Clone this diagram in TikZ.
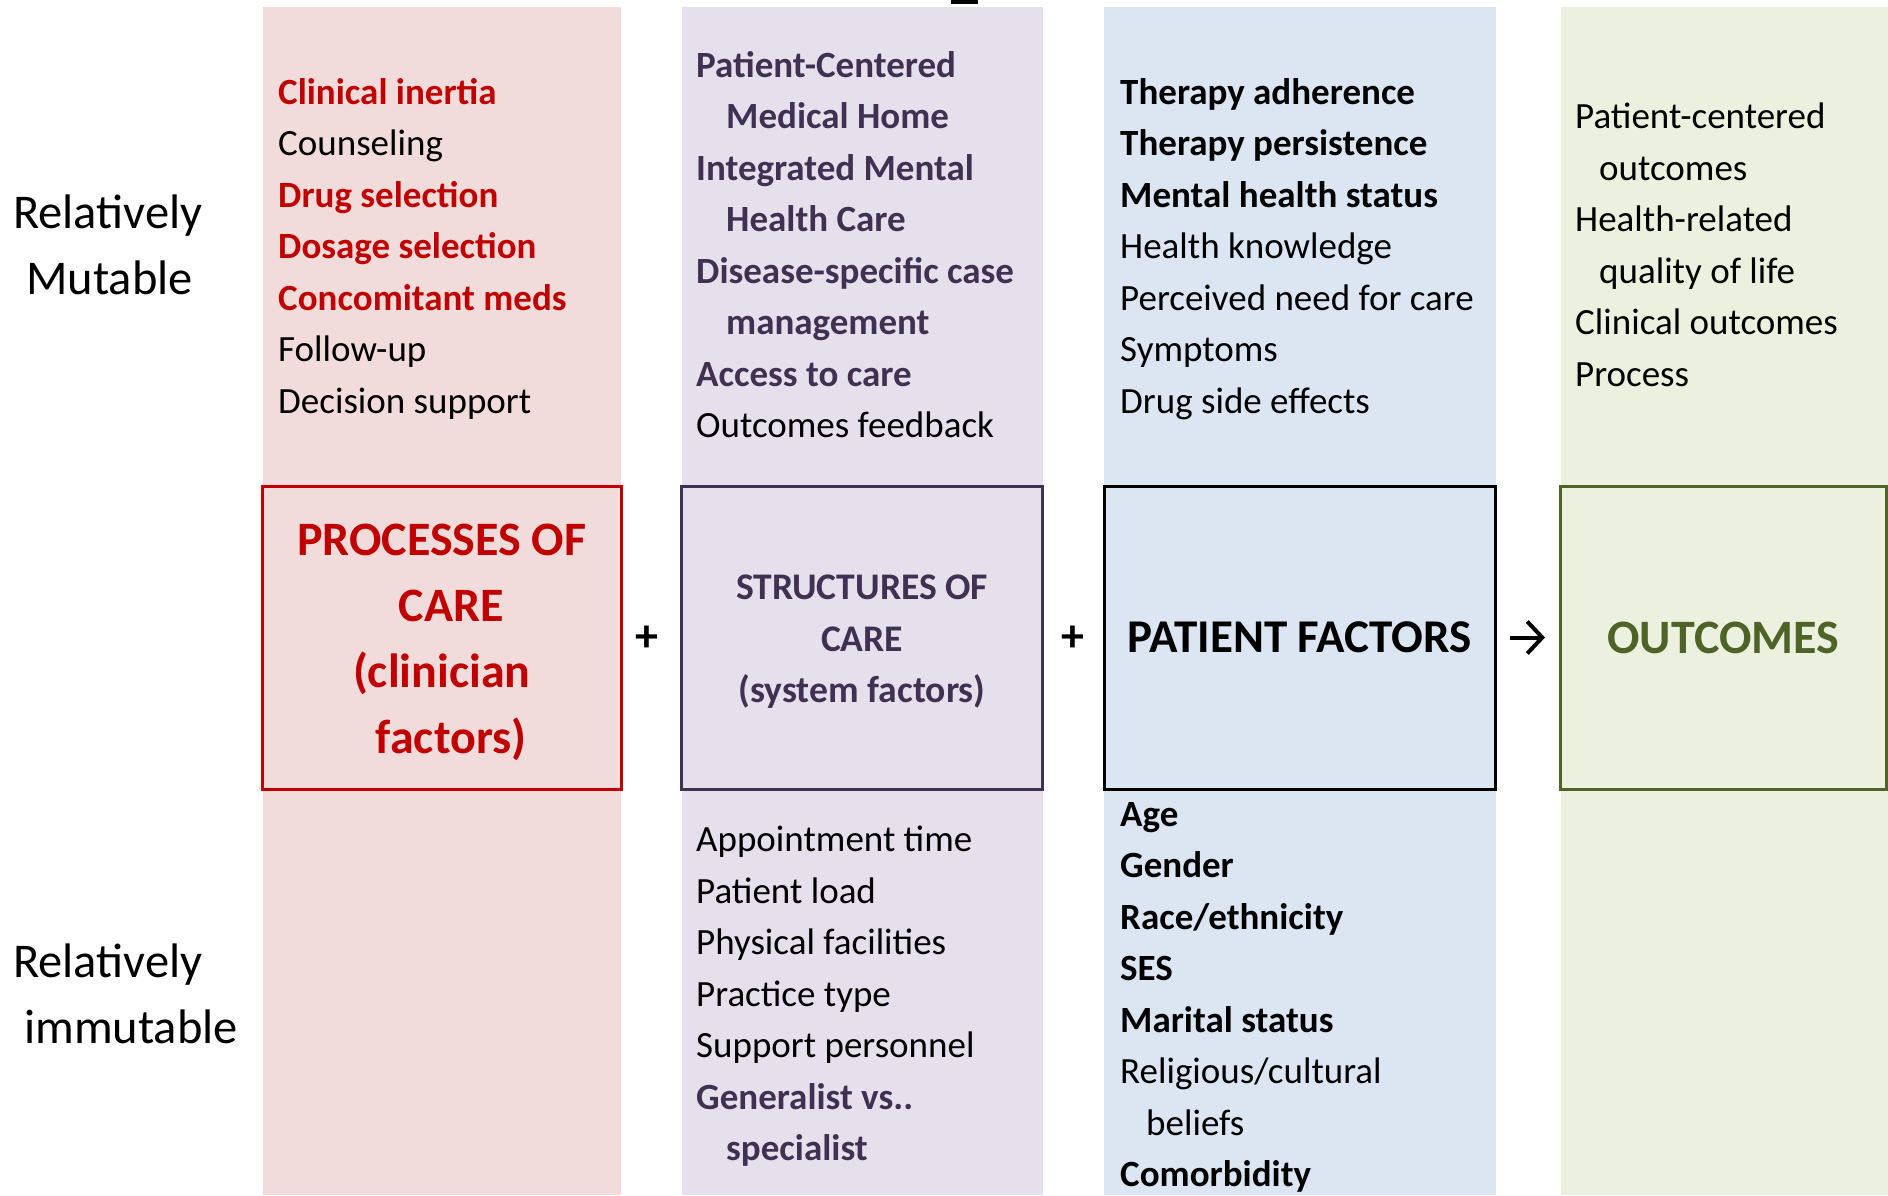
\documentclass[tikz,border=0pt]{standalone}
\usepackage{fontspec}
\setmainfont{Carlito}
\usetikzlibrary{arrows.meta}

\definecolor{procred}{HTML}{C00000}
\definecolor{procfill}{HTML}{F2DCDB}
\definecolor{structpurple}{HTML}{403152}
\definecolor{structfill}{HTML}{E5E0EC}
\definecolor{patientfill}{HTML}{DCE6F2}
\definecolor{outgreen}{HTML}{4F6228}
\definecolor{outfill}{HTML}{EBF1DE}

\newcommand{\redbold}[1]{{\bfseries\color{procred}#1}}
\newcommand{\purplebold}[1]{{\bfseries\color{structpurple}#1}}

\begin{document}
\begin{tikzpicture}[x=1pt, y=-1pt,
        factorbox/.style={rectangle, draw, line width=3pt, inner sep=0pt, align=center},
        itemlist/.style={anchor=base west, inner sep=0pt, align=left, font=\fontsize{37}{51.5}\selectfont},
        sidelabel/.style={anchor=base west, inner sep=0pt, align=left, font=\fontsize{48.5}{66}\selectfont},
        arrow/.style={-{Straight Barb[length=15pt,width=32pt]}, line width=4pt}
    ]
        \useasboundingbox (0,0) rectangle (1888,1195);

        % Column backgrounds
        \fill[procfill] (262.5,7) rectangle (621,1195);
        \fill[structfill] (681.5,7) rectangle (1042.75,1195);
        \fill[patientfill] (1104,7) rectangle (1495.5,1195);
        \fill[outfill] (1560.5,7) rectangle (1888,1195);
        \fill (951,0) rectangle (978,4);

        % Factor boxes
        \node[factorbox, draw=procred, fill=procfill, text=procred, minimum width=358.5pt, minimum height=303pt, font=\bfseries\fontsize{48}{66}\selectfont] (process) at (441.75,637.5) {\rule{0pt}{42pt}PROCESSES OF\\\hspace*{19pt}CARE\\(clinician\\\hspace*{19pt}factors)};
        \node[factorbox, draw=structpurple, fill=structfill, text=structpurple, minimum width=361.25pt, minimum height=303pt, font=\bfseries\fontsize{37.6}{51.5}\selectfont] (structure) at (862.1,637.5) {\rule{0pt}{33pt}STRUCTURES OF\\CARE\\(system factors)};
        \node[factorbox, draw=black, fill=patientfill, minimum width=391.5pt, minimum height=303pt, font=\bfseries\fontsize{47}{56}\selectfont] (patient) at (1299.75,637.5) {PATIENT FACTORS};
        \node[factorbox, draw=outgreen, fill=outfill, text=outgreen, minimum width=325.5pt, minimum height=303pt, font=\bfseries\fontsize{48}{56}\selectfont] (outcome) at (1723.25,637.5) {OUTCOMES};

        % Operators
        \node[font=\bfseries\fontsize{46}{52}\selectfont] (plusone) at (646.6,639) {+};
        \node[font=\bfseries\fontsize{46}{52}\selectfont] (plustwo) at (1073,639) {+};
        \draw[arrow, shorten <=13pt, shorten >=14pt] (patient) -- (outcome);

        % Row labels (anchored at last baseline)
        \node[sidelabel] (mutable) at (13,294.5) {Relatively\\\hspace*{13pt}Mutable};
        \node[sidelabel] (immutable) at (13,1043.5) {Relatively\\\hspace*{11pt}immutable};

        % Mutable factors
        \node[itemlist] (proclist) at (278,413) {\redbold{Clinical inertia}\\Counseling\\\redbold{Drug selection}\\\redbold{Dosage selection}\\\redbold{Concomitant meds}\\Follow-up\\Decision support};
        \node[itemlist] (structlist) at (696,437.5) {\purplebold{Patient-Centered}\\\hspace*{30pt}\purplebold{Medical Home}\\\purplebold{Integrated Mental}\\\hspace*{30pt}\purplebold{Health Care}\\\purplebold{Disease-specific case}\\\hspace*{30pt}\purplebold{management}\\\purplebold{Access to care}\\Outcomes feedback};
        \node[itemlist] (patientlist) at (1120,413) {\textbf{Therapy adherence}\\\textbf{Therapy persistence}\\\textbf{Mental health status}\\Health knowledge\\Perceived need for care\\Symptoms\\Drug side effects};
        \node[itemlist] (outlist) at (1575,386) {Patient-centered\\\hspace*{24pt}outcomes\\Health-related\\\hspace*{24pt}quality of life\\Clinical outcomes\\Process};

        % Immutable factors
        \node[itemlist] (structfixed) at (696,1160.5) {Appointment time\\Patient load\\Physical facilities\\Practice type\\Support personnel\\\purplebold{Generalist vs..}\\\hspace*{30pt}\purplebold{specialist}};
        \node[itemlist] (patientfixed) at (1120,1186.5) {\textbf{Age}\\\textbf{Gender}\\\textbf{Race/ethnicity}\\\textbf{SES}\\\textbf{Marital status}\\Religious/cultural\\\hspace*{26pt}beliefs\\\textbf{Comorbidity}};
    \end{tikzpicture}
\end{document}
